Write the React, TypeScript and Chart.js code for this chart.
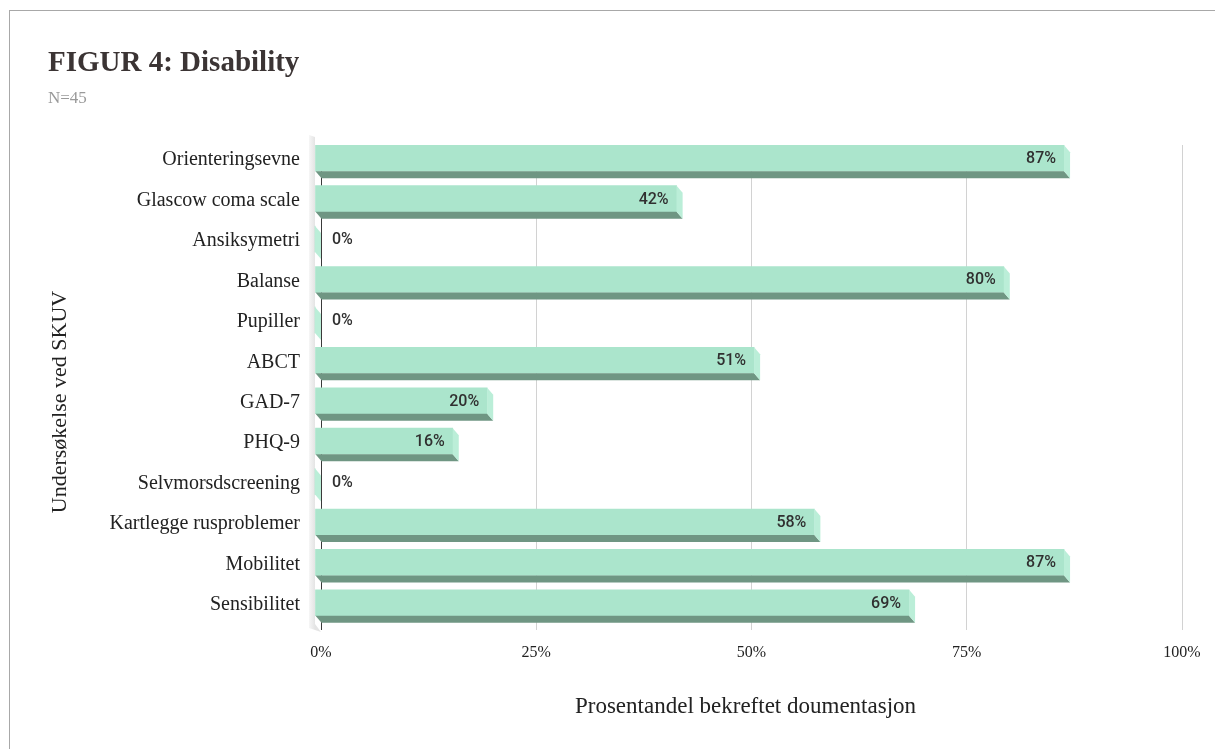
import React, { useEffect, useRef } from "react";
import { Chart, registerables } from "chart.js";

Chart.register(...registerables);

// Data
const categories = [
  "Orienteringsevne",
  "Glascow coma scale",
  "Ansiksymetri",
  "Balanse",
  "Pupiller",
  "ABCT",
  "GAD-7",
  "PHQ-9",
  "Selvmorsdscreening",
  "Kartlegge rusproblemer",
  "Mobilitet",
  "Sensibilitet",
];
const percentages = [87, 42, 0, 80, 0, 51, 20, 16, 0, 58, 87, 69];
const xTicks = [0, 25, 50, 75, 100];

const chartTitle = "FIGUR 4: Disability";
const chartSubtitle = "N=45";
const xAxisTitle = "Prosentandel bekreftet doumentasjon";
const yAxisTitle = "Undersøkelse ved SKUV";

// Styling
const SERIF = "'Liberation Serif', 'Times New Roman', serif";
const SANS = "Roboto, 'Noto Sans', sans-serif";
const DEPTH_X = 6;
const DEPTH_Y = 7;
const FRONT = "#abe5cc";
const BOTTOM = "#6f9683";
const SIDE = "#bbeed8";

// Pseudo-3D bars: the library draws the front faces (shifted toward the viewer),
// this plugin adds the side wall, the bottom/end faces and the value labels.
const bar3d = {
  id: "bar3d",
  beforeDatasetsDraw(chart: any) {
    const { ctx, chartArea, scales } = chart;
    const x0 = scales.x.getPixelForValue(0);
    ctx.save();
    const g = ctx.createLinearGradient(x0 - 2 * DEPTH_X, 0, x0 - DEPTH_X, 0);
    g.addColorStop(0, "#f6f6f6");
    g.addColorStop(1, "#e4e4e4");
    ctx.fillStyle = g;
    ctx.beginPath();
    ctx.moveTo(x0 - 2 * DEPTH_X, chartArea.top - 10);
    ctx.lineTo(x0 - DEPTH_X, chartArea.top - 8);
    ctx.lineTo(x0 - DEPTH_X, chartArea.bottom - 6);
    ctx.lineTo(x0, chartArea.bottom + 2);
    ctx.lineTo(x0 - 2 * DEPTH_X, chartArea.bottom - 2);
    ctx.closePath();
    ctx.fill();
    ctx.restore();

    ctx.save();
    ctx.translate(-DEPTH_X, -DEPTH_Y);
  },
  afterDatasetsDraw(chart: any) {
    const { ctx } = chart;
    const meta = chart.getDatasetMeta(0);
    const values = chart.data.datasets[0].data as number[];
    const boxes = meta.data.map((el: any) =>
      el.getProps(["x", "y", "base", "height"], true)
    );
    boxes.forEach((b: any) => {
      const top = b.y - b.height / 2;
      const bot = b.y + b.height / 2;
      ctx.fillStyle = BOTTOM;
      ctx.beginPath();
      ctx.moveTo(b.base, bot);
      ctx.lineTo(b.x, bot);
      ctx.lineTo(b.x + DEPTH_X, bot + DEPTH_Y);
      ctx.lineTo(b.base + DEPTH_X, bot + DEPTH_Y);
      ctx.closePath();
      ctx.fill();
      ctx.fillStyle = SIDE;
      ctx.beginPath();
      ctx.moveTo(b.x, top);
      ctx.lineTo(b.x + DEPTH_X, top + DEPTH_Y);
      ctx.lineTo(b.x + DEPTH_X, bot + DEPTH_Y);
      ctx.lineTo(b.x, bot);
      ctx.closePath();
      ctx.fill();
    });
    ctx.restore();

    ctx.save();
    ctx.font = `500 16px ${SANS}`;
    ctx.fillStyle = "#303030";
    ctx.textBaseline = "middle";
    boxes.forEach((b: any, i: number) => {
      const v = values[i];
      const frontEnd = b.x - DEPTH_X;
      const cy = b.y - DEPTH_Y;
      const label = `${v}%`;
      if (v > 0) {
        ctx.textAlign = "right";
        ctx.fillText(label, frontEnd - 8, cy + 1);
      } else {
        ctx.textAlign = "left";
        ctx.fillText(label, frontEnd + 17, cy + 1);
      }
    });
    ctx.restore();
  },
  afterDraw(chart: any) {
    const { ctx, scales } = chart;
    const xs = scales.x;
    ctx.save();
    ctx.fillStyle = "#222222";
    ctx.textBaseline = "middle";
    ctx.textAlign = "center";
    ctx.font = `23px ${SERIF}`;
    const cx =
      (xs.getPixelForValue(xTicks[0]) +
        xs.getPixelForValue(xTicks[xTicks.length - 1])) /
        2 -
      DEPTH_X;
    ctx.fillText(xAxisTitle, cx, 707);

    ctx.font = `22px ${SERIF}`;
    ctx.translate(60, 402);
    ctx.rotate(-Math.PI / 2);
    ctx.fillText(yAxisTitle, 0, 0);
    ctx.restore();
  },
};

export default function App() {
  const canvasRef = useRef<HTMLCanvasElement | null>(null);

  useEffect(() => {
    document.body.style.margin = "0";
    const canvas = canvasRef.current;
    if (!canvas) return;
    const chart = new Chart(canvas, {
      type: "bar",
      data: {
        labels: categories,
        datasets: [
          {
            data: percentages,
            backgroundColor: FRONT,
            borderWidth: 0,
            barThickness: 26,
            categoryPercentage: 1,
            clip: false as any,
          },
        ],
      },
      options: {
        indexAxis: "y",
        responsive: false,
        animation: false,
        events: [],
        layout: { padding: { left: 48, right: 33, top: 0, bottom: 0 } },
        plugins: {
          legend: { display: false },
          tooltip: { enabled: false },
          title: {
            display: true,
            text: chartTitle,
            align: "start",
            color: "#3b3434",
            font: { family: SERIF, size: 29, weight: "bold", lineHeight: 1.2 },
            padding: { top: 46, bottom: 0 },
          },
          subtitle: {
            display: true,
            text: chartSubtitle,
            align: "start",
            color: "#9a9a9a",
            font: { family: SERIF, size: 17, lineHeight: 1.2 },
            padding: { top: 8, bottom: 35.8 },
          },
        },
        scales: {
          x: {
            type: "linear",
            min: 0,
            max: 100,
            afterBuildTicks: (s: any) => {
              s.ticks = xTicks.map((v) => ({ value: v }));
            },
            afterFit: (s: any) => {
              s.height = 119;
            },
            border: { display: false },
            grid: {
              drawTicks: false,
              lineWidth: 1,
              color: (c: any) =>
                c.tick && c.tick.value === 0 ? "#3a3a3a" : "#d2d2d2",
            },
            ticks: {
              padding: 13,
              color: "#222222",
              font: { family: SERIF, size: 16 },
              callback: (v: any) => `${v}%`,
            },
          },
          y: {
            type: "category",
            afterFit: (s: any) => {
              s.width = 273;
            },
            border: { display: false },
            grid: { display: false, drawTicks: false },
            ticks: {
              autoSkip: false,
              padding: 21,
              labelOffset: -5,
              color: "#222222",
              font: { family: SERIF, size: 20 },
            },
          },
        },
      },
      plugins: [bar3d],
    });
    return () => chart.destroy();
  }, []);

  return (
    <div
      style={{
        position: "fixed",
        left: 0,
        top: 0,
        width: 1215,
        height: 749,
        overflow: "hidden",
        background: "#ffffff",
      }}
    >
      <div
        style={{
          position: "absolute",
          left: 9,
          top: 10,
          width: 1400,
          height: 1000,
          borderTop: "1px solid #a8a8a8",
          borderLeft: "1px solid #a8a8a8",
        }}
      />
      <canvas
        ref={canvasRef}
        width={1215}
        height={749}
        style={{ position: "absolute", left: 0, top: 0, width: 1215, height: 749 }}
      />
    </div>
  );
}
